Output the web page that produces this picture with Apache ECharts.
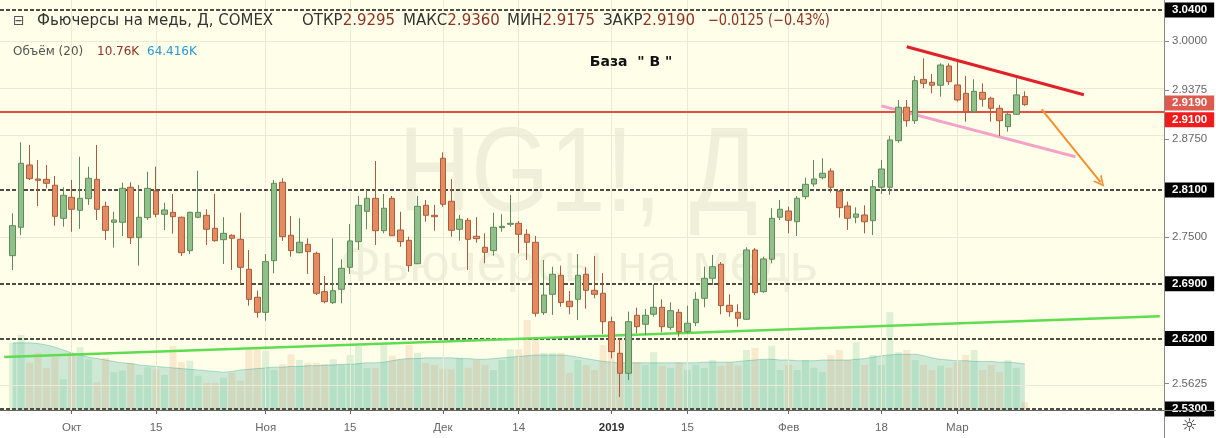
<!DOCTYPE html>
<html>
<head>
<meta charset="utf-8">
<script src="https://cdn.jsdelivr.net/npm/echarts@6/dist/echarts.min.js"></script>
<style>
html, body { margin: 0; padding: 0; background: #fff; }
#chart { width: 1216px; height: 438px; }
</style>
</head>
<body>
<div id="chart"></div>
<script>
// trading days (the last 16 are empty slots on the right)
const dates = [
  '2018-09-19','2018-09-20','2018-09-21','2018-09-24','2018-09-25','2018-09-26','2018-09-27','2018-09-28',
  '2018-10-01','2018-10-02','2018-10-03','2018-10-04','2018-10-05','2018-10-08','2018-10-09','2018-10-10','2018-10-11','2018-10-12',
  '2018-10-15','2018-10-16','2018-10-17','2018-10-18','2018-10-19','2018-10-22','2018-10-23','2018-10-24','2018-10-25','2018-10-26',
  '2018-10-29','2018-10-30','2018-10-31',
  '2018-11-01','2018-11-02','2018-11-05','2018-11-06','2018-11-07','2018-11-08','2018-11-09','2018-11-12','2018-11-13','2018-11-14',
  '2018-11-15','2018-11-16','2018-11-19','2018-11-20','2018-11-21','2018-11-23','2018-11-26','2018-11-27','2018-11-28','2018-11-29','2018-11-30',
  '2018-12-03','2018-12-04','2018-12-05','2018-12-06','2018-12-07','2018-12-10','2018-12-11','2018-12-12','2018-12-13','2018-12-14',
  '2018-12-17','2018-12-18','2018-12-19','2018-12-20','2018-12-21','2018-12-24','2018-12-26','2018-12-27','2018-12-28','2018-12-31',
  '2019-01-02','2019-01-03','2019-01-04','2019-01-07','2019-01-08','2019-01-09','2019-01-10','2019-01-11','2019-01-14','2019-01-15',
  '2019-01-16','2019-01-17','2019-01-18','2019-01-22','2019-01-23','2019-01-24','2019-01-25','2019-01-28','2019-01-29','2019-01-30','2019-01-31',
  '2019-02-01','2019-02-04','2019-02-05','2019-02-06','2019-02-07','2019-02-08','2019-02-11','2019-02-12','2019-02-13','2019-02-14','2019-02-15',
  '2019-02-18','2019-02-19','2019-02-20','2019-02-21','2019-02-22','2019-02-25','2019-02-26','2019-02-27','2019-02-28',
  '2019-03-01','2019-03-04','2019-03-05','2019-03-06','2019-03-07','2019-03-08','2019-03-11','2019-03-12','2019-03-13',
  '2019-03-14','2019-03-15','2019-03-18','2019-03-19','2019-03-20','2019-03-21','2019-03-22','2019-03-25','2019-03-26','2019-03-27',
  '2019-03-28','2019-03-29','2019-04-01','2019-04-02','2019-04-03','2019-04-04'
]

// candles from 2018-09-20 to 2019-03-13
const opens = [
  2.7260,2.7623,2.8419,2.8240,2.8236,2.8160,2.7738,2.8006,2.7840,2.7988,
  2.8236,2.7891,2.7687,2.7687,2.8134,2.7490,2.7745,2.8087,2.7789,2.7814,
  2.7751,2.7324,2.7751,2.7776,2.7610,2.7464,2.7520,2.7469,2.7086,2.6728,
  2.6536,2.7196,2.8198,2.7520,2.7298,2.7405,2.7290,2.6800,2.6659,2.6830,
  2.7111,2.7439,2.7827,2.7993,2.7579,2.7993,2.7588,2.7456,2.7157,2.7904,
  2.7776,2.8505,2.7955,2.7597,2.7712,2.7508,2.7367,2.7324,2.7618,2.7661,
  2.7674,2.7533,2.7431,2.6531,2.6766,2.7009,2.6677,2.6702,2.7022,2.6817,
  2.6779,2.6416,2.6012,2.5757,2.6498,2.6383,2.6511,2.6600,2.6344,2.6536,
  2.6288,2.6403,2.6715,2.6971,2.7150,2.6626,2.6536,2.6447,2.7333,2.6800,
  2.7214,2.7751,2.7831,2.7694,2.8014,2.8176,2.8257,2.8342,2.8083,2.7895,
  2.7751,2.7780,2.7707,2.8134,2.8134,2.8730,2.9157,2.8985,2.9514,2.9476,
  2.9438,2.9684,2.9442,2.9335,2.9100,2.9348,2.9272,2.9144,2.8909,2.9067,
  2.9295
]
const closes = [
  2.7643,2.8441,2.8244,2.8223,2.8185,2.7763,2.8032,2.7853,2.7993,2.8249,
  2.7853,2.7584,2.7716,2.8121,2.7490,2.7751,2.8121,2.7789,2.7844,2.7758,
  2.7298,2.7814,2.7814,2.7597,2.7451,2.7546,2.7482,2.7111,2.6702,2.6536,
  2.7183,2.8185,2.7503,2.7324,2.7431,2.7311,2.6779,2.6672,2.6812,2.7099,
  2.7448,2.7904,2.7993,2.7579,2.7866,2.7515,2.7439,2.7132,2.7891,2.7776,
  2.7758,2.7917,2.7584,2.7725,2.7469,2.7477,2.7303,2.7623,2.7635,2.7674,
  2.7533,2.7431,2.6523,2.6757,2.7022,2.6661,2.6608,2.7009,2.6817,2.6766,
  2.6416,2.6033,2.5757,2.6416,2.6352,2.6498,2.6600,2.6352,2.6557,2.6288,
  2.6396,2.6702,2.6971,2.7119,2.6621,2.6544,2.6460,2.7333,2.6787,2.7218,
  2.7738,2.7853,2.7712,2.7993,2.8172,2.8240,2.8313,2.8134,2.7873,2.7738,
  2.7793,2.7694,2.8142,2.8368,2.8739,2.9157,2.8985,2.9497,2.9463,2.9438,
  2.9697,2.9484,2.9250,2.9100,2.9361,2.9259,2.9144,2.8985,2.9067,2.9315,
  2.9190
]
const lows = [
  2.7077,2.7524,2.8227,2.7895,2.8121,2.7643,2.7630,2.7566,2.7601,2.7908,
  2.7716,2.7460,2.7362,2.7511,2.7409,2.7132,2.7716,2.7751,2.7588,2.7541,
  2.7256,2.7281,2.7738,2.7396,2.7439,2.7154,2.7077,2.6898,2.6621,2.6467,
  2.6429,2.7035,2.7448,2.7247,2.7290,2.7026,2.6757,2.6651,2.6642,2.6651,
  2.7026,2.7333,2.7597,2.7396,2.7546,2.7511,2.7375,2.7055,2.7154,2.7694,
  2.7579,2.7886,2.7503,2.7451,2.7077,2.7426,2.7163,2.7260,2.7566,2.7630,
  2.7290,2.7205,2.6480,2.6502,2.6502,2.6608,2.6511,2.6438,2.6582,2.6715,
  2.6259,2.5948,2.5454,2.5671,2.6268,2.6246,2.6480,2.6281,2.6310,2.6224,
  2.6268,2.6361,2.6600,2.6885,2.6511,2.6480,2.6352,2.6438,2.6757,2.6787,
  2.7163,2.7716,2.7546,2.7511,2.7981,2.8142,2.8236,2.8065,2.7745,2.7588,
  2.7674,2.7546,2.7524,2.8048,2.8036,2.8704,2.8909,2.8943,2.9399,2.9335,
  2.9292,2.9442,2.9228,2.8972,2.9087,2.9164,2.8972,2.8790,2.8845,2.9058,
  2.9175
]
const highs = [
  2.7802,2.8709,2.8675,2.8483,2.8419,2.8278,2.8134,2.8227,2.8525,2.8397,
  2.8675,2.7950,2.7822,2.8193,2.8198,2.8163,2.8333,2.8397,2.7937,2.8048,
  2.7760,2.7822,2.8346,2.7853,2.8048,2.7751,2.7533,2.7809,2.7333,2.6812,
  2.7281,2.8227,2.8249,2.7767,2.7738,2.7482,2.7311,2.7000,2.7482,2.7214,
  2.7665,2.8023,2.8099,2.8470,2.8048,2.8023,2.7822,2.7503,2.8023,2.7972,
  2.7908,2.8581,2.8240,2.7780,2.7742,2.7751,2.7546,2.7809,2.7789,2.8036,
  2.7703,2.7597,2.7511,2.7205,2.7119,2.7132,2.6808,2.7281,2.7111,2.7256,
  2.7035,2.6480,2.6204,2.6544,2.6595,2.6578,2.6894,2.6702,2.6664,2.6578,
  2.6621,2.6792,2.7119,2.7269,2.7179,2.6766,2.6638,2.7367,2.7358,2.7247,
  2.7866,2.7972,2.7886,2.8023,2.8257,2.8483,2.8505,2.8377,2.8099,2.7950,
  2.7878,2.7904,2.8227,2.8483,2.8790,2.9250,2.9250,2.9557,2.9783,2.9582,
  2.9719,2.9719,2.9739,2.9557,2.9514,2.9463,2.9292,2.9186,2.9100,2.9527,
  2.9360
]
// volume, thousands of contracts
const volumes = [
  94,105,66,80,59,74,43,80,88,71,
  39,73,53,55,66,49,60,57,49,90,
  67,69,48,38,38,45,52,41,85,85,
  83,56,64,78,70,66,66,64,71,63,
  77,90,59,59,92,76,71,91,80,66,
  63,57,57,73,59,70,63,56,70,85,
  85,126,101,80,80,80,52,70,63,56,
  91,105,98,84,67,63,81,62,59,67,
  56,63,59,70,62,67,62,84,87,70,
  90,56,63,56,70,59,53,77,84,70,
  95,63,77,63,137,81,84,70,63,56,
  62,59,67,77,84,56,63,53,70,59,
  10.76
]
// volume moving average (20)
const volumeMA = [
  94,94,94,93,91,88,84,80,77,74,
  72,70,68,66,65,63,62,61,60,59,
  58,57,56,55,54,53,54,56,57,58,
  59,60,60,61,61,62,62,63,63,64,
  64,65,66,66,67,69,71,72,72,73,
  73,73,73,72,72,71,71,72,73,74,
  75,76,77,77,77,77,76,74,72,70,
  68,67,66,66,66,66,66,66,66,66,
  66,66,67,67,67,67,68,69,70,71,
  71,70,70,69,69,69,70,70,70,70,
  71,72,74,76,77,78,78,78,76,73,
  71,70,69,69,68,68,68,67,67,66,
  64.416
]

const tickDates = ['2018-10-01','2018-10-15','2018-11-01','2018-11-15','2018-12-03','2018-12-14','2019-01-02','2019-01-15','2019-02-01','2019-02-18','2019-03-01']
const tickNames = ['Окт','15','Ноя','15','Дек','14','2019','15','Фев','18','Мар']
const priceTicks = [2.5625, 2.75, 2.875, 2.9375, 3.0]
const levels = [3.04, 2.81, 2.69, 2.62, 2.53]
const redLevel = 2.91
const lastPrice = 2.919
const priceMin = 2.52872, priceMax = 3.05278
const volumeMax = 574

const chart = echarts.init(document.getElementById('chart'))

const isTick = (i, v) => tickDates.includes(v)
const candleData = [['-','-','-','-'], ...opens.map((o, i) => [o, closes[i], lows[i], highs[i]])]
const volumeData = ['-', ...volumes.map((v, i) => ({
  value: v,
  itemStyle: {color: closes[i] >= opens[i] ? 'rgba(90,190,140,0.2)' : 'rgba(225,150,100,0.2)'}
}))]
const maData = ['-', ...volumeMA]

const boxLabel = (bg, v) => ({
  show: true, position: 'end', distance: 1,
  formatter: () => v.toFixed(4),
  backgroundColor: bg, color: '#fff', fontWeight: 'bold',
  fontFamily: 'Liberation Sans', fontSize: 11.5, padding: [2, 7, 1, 7]
})
const dashed = {type: [4, 2], width: 2, color: '#4d4d45'}

const text = (x, y, s, style, extra) => Object.assign({
  type: 'text', x, y, z: 10, silent: true,
  style: Object.assign({
    text: s, fill: '#333', font: '15px "DejaVu Sans"',
    textAlign: 'left', align: 'left', textVerticalAlign: 'middle', verticalAlign: 'middle'
  }, style)
}, extra || {})

const pair = (l, v) => ({
  text: `{l|${l}}{v|${v}}`,
  rich: {
    l: {fill: '#333', color: '#333', font: '15px "DejaVu Sans"'},
    v: {fill: '#8c3325', color: '#8c3325', font: '15px "DejaVu Sans"'}
  }
})

const option = {
  animation: false,
  backgroundColor: '#fff',
  grid: {left: -4.25, right: 52, top: 0, bottom: 28, show: true, backgroundColor: '#fffee8', borderWidth: 0},
  xAxis: {
    type: 'category', data: dates, boundaryGap: true,
    axisLine: {lineStyle: {color: '#666'}},
    axisTick: {show: true, length: 4, interval: isTick, alignWithLabel: true, lineStyle: {color: '#666'}},
    axisLabel: {
      interval: isTick, margin: 12, color: '#666', fontSize: 11.5, fontFamily: 'Liberation Sans',
      formatter: v => {
        const n = tickNames[tickDates.indexOf(v)]
        return n === '2019' ? '{b|2019}' : n
      },
      rich: {b: {fontWeight: 'bold', color: '#333', fontSize: 11.5, fontFamily: 'Liberation Sans'}}
    },
    splitLine: {show: false}
  },
  yAxis: [{
    type: 'value', position: 'right', min: priceMin, max: priceMax,
    axisLine: {show: true, lineStyle: {color: '#888'}},
    axisTick: {show: true, length: 5, customValues: priceTicks, lineStyle: {color: '#888'}},
    axisLabel: {
      customValues: priceTicks, formatter: v => v.toFixed(4),
      color: '#666', fontSize: 11.5, margin: 8, fontFamily: 'Liberation Sans'
    },
    splitLine: {show: false}
  }, {
    type: 'value', min: 0, max: volumeMax, show: false
  }],
  series: [{
    // light grid lines
    type: 'line', data: [], z: 1, silent: true,
    markLine: {
      silent: true, symbol: ['none', 'none'], label: {show: false},
      lineStyle: {color: '#ebead3', width: 1, type: 'solid'},
      data: [
        ...tickDates.map(d => ({xAxis: d})),
        ...priceTicks.map(v => ({yAxis: v}))
      ]
    }
  }, {
    name: 'volume', type: 'bar', yAxisIndex: 1, data: volumeData, barWidth: 7, z: 2, silent: true
  }, {
    name: 'volumeMA', type: 'line', yAxisIndex: 1, data: maData, smooth: 0.3, showSymbol: false, z: 2, silent: true,
    lineStyle: {width: 1, color: 'rgba(0,150,140,0.3)'},
    areaStyle: {color: 'rgba(0,150,140,0.28)'}
  }, {
    name: 'HG1!', type: 'candlestick', data: candleData, barWidth: 6, z: 5, silent: true,
    itemStyle: {color: '#8fc08a', color0: '#e68a5f', borderColor: '#5e8b59', borderColor0: '#a65e3e', borderWidth: 1},
    markLine: {
      silent: true, symbol: ['none', 'none'], label: {show: false},
      data: [
        ...levels.map(v => ({yAxis: v, lineStyle: dashed, label: boxLabel('#000', v)})),
        {yAxis: redLevel, lineStyle: {type: 'solid', width: 2, color: '#ec4b41'}, label: Object.assign(boxLabel('#f21b1b', redLevel), {offset: [0, 8]})},
        {yAxis: lastPrice, lineStyle: {type: 'solid', width: 0, color: 'rgba(0,0,0,0)'}, label: Object.assign(boxLabel('#dc5a4e', lastPrice), {offset: [0, -1]})},
        [{coord: [0, 2.59646]}, {coord: [137, 2.64862], lineStyle: {type: 'solid', width: 2.5, color: '#5fdc4f'}}],
        [{coord: [107, 2.99296]}, {coord: [128, 2.93161], lineStyle: {type: 'solid', width: 3, color: '#e0202a'}}],
        [{coord: [104, 2.91742]}, {coord: [127, 2.85236], lineStyle: {type: 'solid', width: 3, color: '#f4a3c8'}}],
        [{coord: [123, 2.91307]}, {coord: [130, 2.81964], symbol: 'path://M0,10 L5,0 L10,10 L8.3,10 L5,3.4 L1.7,10 Z', symbolSize: [11, 11],
          lineStyle: {type: 'solid', width: 2, color: '#f5902c'}}]
      ]
    }
  }],
  graphic: [
    // watermark
    {type: 'text', x: 578, y: 178, z: 1, silent: true, scaleX: 0.84,
      style: {text: 'HG1!, Д', fill: 'rgba(0,0,0,0.06)', font: '120px "Liberation Sans"',
        textAlign: 'center', align: 'center', textVerticalAlign: 'middle', verticalAlign: 'middle'}},
    {type: 'text', x: 579, y: 266, z: 1, silent: true,
      style: {text: 'Фьючерсы на медь', fill: 'rgba(0,0,0,0.06)', font: '54px "Liberation Sans"',
        textAlign: 'center', align: 'center', textVerticalAlign: 'middle', verticalAlign: 'middle'}},
    // legend lines
    text(13, 21, '⊟', {font: '14px "DejaVu Sans"', fill: '#555'}),
    text(37, 21, 'Фьючерсы на медь, Д, COMEX'),
    text(302, 21, '', pair('ОТКР', '2.9295')),
    text(403, 21, '', pair('МАКС', '2.9360')),
    text(507, 21, '', pair('МИН', '2.9175')),
    text(603, 21, '', pair('ЗАКР', '2.9190')),
    text(708, 21, '−0.0125 (−0.43%)', {fill: '#8c3325'}, {scaleX: 0.86}),
    text(13, 52, 'Объём (20)', {font: '12px "DejaVu Sans"', fill: '#555'}),
    text(97, 52, '10.76K', {font: '12px "DejaVu Sans"', fill: '#8c3325'}),
    text(147, 52, '64.416K', {font: '12px "DejaVu Sans"', fill: '#2a98d8'}),
    text(631, 62, 'База  " В "', {font: 'bold 14px "DejaVu Sans"', fill: '#111', textAlign: 'center', align: 'center'}),
    // axis corner
    text(1189, 426, '☼', {font: '18px "DejaVu Sans"', fill: '#333', textAlign: 'center', align: 'center'}),
    {type: 'line', z: 10, silent: true, shape: {x1: 1164.5, y1: 410, x2: 1164.5, y2: 438}, style: {stroke: '#888', lineWidth: 1}},
    {type: 'line', z: 10, silent: true, shape: {x1: 1164, y1: 410.5, x2: 1216, y2: 410.5}, style: {stroke: '#888', lineWidth: 1}}
  ]
}

chart.setOption(option)
window.addEventListener('resize', () => chart.resize())
</script>
</body>
</html>
